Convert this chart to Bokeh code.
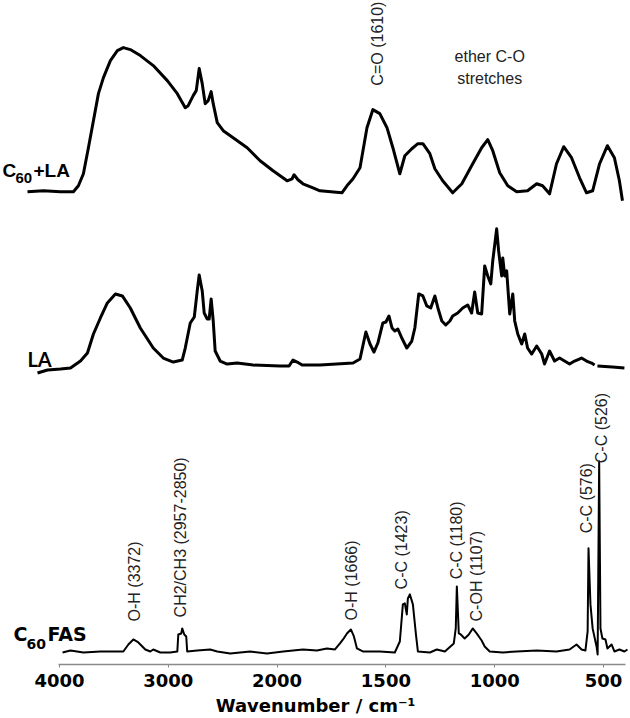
import numpy as np
from math import pi
from bokeh.plotting import figure
from bokeh.models import Range1d, FixedTicker, CustomJSTickFormatter
from bokeh.core.properties import value
from bokeh.embed import file_html
from bokeh.resources import INLINE

# ---------------- data (wavenumber / cm-1, absorbance a.u. above own baseline) -------------
wn_c60la = [4294, 4147, 3991, 3872, 3826, 3780, 3734, 3688, 3642, 3596, 3532, 3468, 3413, 3349,
            3257, 3138, 3009, 2917, 2844, 2817, 2771, 2743, 2716, 2688, 2661, 2633, 2606, 2587,
            2550, 2495, 2404, 2275, 2156, 2037, 1954, 1931, 1922, 1904, 1881, 1835, 1803, 1702,
            1679, 1651, 1619, 1587, 1560, 1528, 1495, 1468, 1436, 1413, 1381, 1353, 1330, 1298,
            1275, 1239, 1193, 1151, 1101, 1060, 1032, 1009, 977, 940, 899, 849, 807, 780, 748,
            716, 683, 647, 610, 578, 550, 518, 482, 450, 427, 413]
abs_c60la = [0.01, 0.02, 0.01, 0.01, 0.07, 0.19, 0.45, 0.72, 0.99, 1.15, 1.32, 1.42, 1.45, 1.43,
             1.37, 1.27, 1.12, 0.99, 0.85, 0.87, 0.97, 1.02, 1.24, 1.09, 0.89, 0.92, 1.01, 0.89,
             0.70, 0.62, 0.55, 0.45, 0.32, 0.22, 0.12, 0.14, 0.18, 0.13, 0.09, 0.05, 0.02, 0.00,
             0.07, 0.14, 0.25, 0.65, 0.83, 0.79, 0.65, 0.45, 0.19, 0.37, 0.44, 0.49, 0.49, 0.39,
             0.24, 0.12, 0.00, 0.09, 0.29, 0.45, 0.53, 0.42, 0.20, 0.07, 0.01, 0.02, 0.09, 0.07, -0.01,
             0.29, 0.46, 0.35, 0.15, 0.00, 0.02, 0.29, 0.47, 0.35, 0.12, -0.08]

wn_la = [4202, 4110, 3991, 3899, 3807, 3743, 3688, 3624, 3560, 3486, 3422, 3349, 3257, 3138,
         3046, 2954, 2872, 2844, 2798, 2761, 2734, 2716, 2688, 2670, 2642, 2624, 2606, 2587,
         2569, 2523, 2459, 2367, 2220, 1986, 1945, 1927, 1908, 1885, 1803, 1651, 1619, 1592,
         1573, 1555, 1537, 1514, 1500, 1486, 1472, 1459, 1445, 1427, 1404, 1381, 1367, 1349,
         1330, 1312, 1294, 1275, 1261, 1243, 1225, 1206, 1193, 1170, 1147, 1124, 1106, 1092,
         1078, 1060, 1046, 1032, 1018, 1009, 991, 982, 968, 963, 954, 945, 931, 917, 908, 894,
         876, 862, 849, 830, 807, 784, 771, 748, 725, 702, 679, 656, 633, 601, 578, 555, 541,
         535, 528, 459, 404]
abs_la = [-0.08, -0.05, -0.04, -0.03, 0.04, 0.12, 0.31, 0.47, 0.62, 0.71, 0.69, 0.57, 0.37, 0.17,
          0.07, 0.03, 0.05, 0.17, 0.42, 0.48, 0.74, 0.90, 0.74, 0.52, 0.46, 0.46, 0.66, 0.44,
          0.14, 0.04, 0.01, 0.02, 0.00, -0.01, -0.01, 0.05, 0.03, 0.00, 0.00, 0.02, 0.06, 0.33,
          0.21, 0.13, 0.22, 0.42, 0.43, 0.49, 0.37, 0.34, 0.36, 0.27, 0.17, 0.24, 0.37, 0.71,
          0.69, 0.59, 0.57, 0.69, 0.57, 0.44, 0.40, 0.44, 0.49, 0.52, 0.57, 0.60, 0.52, 0.73,
          0.52, 0.51, 0.99, 0.89, 0.81, 1.04, 1.36, 1.14, 0.89, 1.07, 0.89, 0.94, 0.51, 0.71, 0.44, 0.31,
          0.21, 0.31, 0.17, 0.11, 0.19, 0.11, 0.01, 0.14, 0.04, 0.07, 0.04, 0.01, 0.04, 0.07, 0.04, 0.02, 0.00,
          float("nan"), -0.01, -0.02, -0.03]

wn_fas = [3972, 3899, 3780, 3624, 3413, 3367, 3321, 3275, 3211, 3165, 3138, 3073, 2982, 2917,
          2908, 2881, 2872, 2853, 2835, 2826, 2734, 2615, 2550, 2431, 2248, 2092, 1972, 1881,
          1817, 1771, 1734, 1711, 1697, 1679, 1661, 1647, 1633, 1606, 1528, 1459, 1436, 1422,
          1413, 1404, 1399, 1390, 1376, 1362, 1353, 1298, 1266, 1229, 1188, 1179, 1174, 1165,
          1156, 1138, 1119, 1101, 1083, 1060, 1046, 1023, 963, 899, 807, 716, 656, 624, 601,
          583, 573, 569, 560, 550, 532, 527, 520, 514, 505, 491, 482, 463, 450, 427, 404, 390]
abs_fas = [-0.01, 0.01, -0.01, 0.00, 0.00, 0.07, 0.12, 0.09, 0.02, 0.00, 0.02, -0.01, -0.01, 0.00,
           0.17, 0.18, 0.23, 0.17, 0.15, 0.00, 0.01, 0.02, 0.00, -0.02, 0.00, -0.02, 0.00, 0.02,
           0.01, 0.03, 0.02, 0.08, 0.12, 0.18, 0.22, 0.15, 0.03, 0.00, 0.00, -0.01, 0.10, 0.47,
           0.48, 0.37, 0.53, 0.57, 0.47, 0.17, 0.00, -0.01, 0.02, 0.00, 0.08, 0.23, 0.65, 0.18,
           0.17, 0.13, 0.17, 0.23, 0.18, 0.11, 0.05, 0.00, -0.01, 0.00, 0.01, 0.00, 0.02, 0.07, 0.02,
           0.01, 0.20, 1.03, 0.47, 0.23, 0.05, -0.03, 1.90, 0.23, 0.13, 0.12, 0.03, 0.07, 0.00, 0.02, 0.00, 0.02]

tick_wn = [4000, 3000, 2000, 1500, 1000, 500]

# stacking offsets (a.u.)
off_c60la, off_la, off_fas = 4.71, 2.99, 0.13

# peak annotations: text, wavenumber, height (a.u.) of text start
ann_text = ["O-H (3372)", "CH2/CH3 (2957-2850)", "O-H (1666)", "C-C (1423)", "C-C (1180)",
            "C-OH (1107)", "C-C (576)", "C-C (526)", "C=O (1610)"]
ann_wn = [3312, 2890, 1656, 1427, 1174, 1083, 578, 509, 1537]
ann_y = [0.43, 0.47, 0.44, 0.75, 0.85, 0.43, 1.31, 2.01, 5.78]


def to_axis(wn):
    """piecewise wavenumber scale: 2x expanded below 2000 cm-1"""
    w = np.asarray(wn, dtype=float)
    return np.where(w >= 2000, w, 2 * w - 2000)


p = figure(width=630, height=718, output_backend="svg", toolbar_location=None,
           x_range=Range1d(4542, -1248), y_range=Range1d(0, 6.63),
           min_border=0, min_border_left=0, min_border_right=0, min_border_top=0,
           min_border_bottom=0, y_axis_location=None, outline_line_color=None)
p.grid.visible = False

for wn, ab, off, lw in [(wn_c60la, abs_c60la, off_c60la, 3.0),
                        (wn_la, abs_la, off_la, 3.0),
                        (wn_fas, abs_fas, off_fas, 2.0)]:
    p.line(to_axis(wn), np.asarray(ab, dtype=float) + off, line_color="black",
           line_width=lw, line_join="round")

ax = p.xaxis[0]
ax.ticker = FixedTicker(ticks=list(to_axis(tick_wn)))
ax.formatter = CustomJSTickFormatter(code="return (tick >= 2000 ? tick : (tick + 2000) / 2).toFixed(0);")
ax.bounds = (-1202, 4009)
ax.axis_label = "Wavenumber / cm\u207b\u00b9"
ax.axis_label_text_font = "DejaVu Sans"
ax.axis_label_text_font_style = "bold"
ax.axis_label_text_font_size = "18px"
ax.axis_label_text_color = "black"
ax.axis_label_standoff = 5
ax.major_label_text_font = "DejaVu Sans"
ax.major_label_text_font_style = "bold"
ax.major_label_text_font_size = "18px"
ax.major_label_text_color = "black"
ax.major_label_standoff = 6
ax.axis_line_color = "#8a8a8a"
ax.axis_line_width = 1.5
ax.major_tick_line_color = "#8a8a8a"
ax.major_tick_out = 3
ax.major_tick_in = 0
ax.minor_tick_out = 0
ax.minor_tick_in = 0

# peak annotations (rotated)
p.text(x=to_axis(ann_wn), y=ann_y, text=ann_text, angle=pi / 2,
       text_font=value("Liberation Sans"), text_font_size="16px",
       text_align="left", text_baseline="middle", text_color="#222222")
p.text(x=to_axis([1023, 1023]), y=[6.07, 5.85], text=["ether C-O", "stretches"],
       text_font=value("Liberation Sans"), text_font_size="16px",
       text_align="center", text_baseline="middle", text_color="#222222")

# trace names
p.text(x=[4524, 4239], y=[4.93, 4.93], text=["C", "+LA"], text_font=value("Liberation Sans"),
       text_font_style="bold", text_font_size="19px", text_align="left",
       text_baseline="alphabetic", text_color="black")
p.text(x=[4404], y=[4.86], text=["60"], text_font=value("Liberation Sans"),
       text_font_style="bold", text_font_size="15px", text_align="left",
       text_baseline="alphabetic", text_color="black")
p.text(x=[4294], y=[3.05], text=["LA"], text_font=value("Lato"),
       text_font_style="bold", text_font_size="20px", text_align="left",
       text_baseline="alphabetic", text_color="black")
p.text(x=[4423, 4110], y=[0.30, 0.30], text=["C", "FAS"], text_font=value("DejaVu Sans"),
       text_font_style="bold", text_font_size="19px", text_align="left",
       text_baseline="alphabetic", text_color="black")
p.text(x=[4303], y=[0.20], text=["60"], text_font=value("DejaVu Sans"),
       text_font_style="bold", text_font_size="14px", text_align="left",
       text_baseline="alphabetic", text_color="black")

open("out.html", "w").write(file_html(p, INLINE))
